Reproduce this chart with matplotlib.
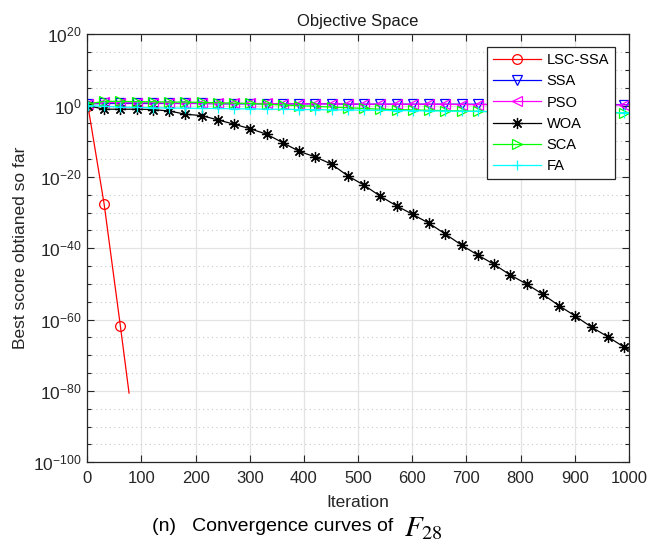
import numpy as np
import matplotlib
matplotlib.use("Agg")
import matplotlib.pyplot as plt
from matplotlib.ticker import FixedLocator, LogFormatterSciNotation, NullFormatter

plt.rcParams['font.family'] = ['Liberation Sans', 'DejaVu Sans']

# iterations at which values were read (markers every 30 iterations + final)
iters = [1, 31, 61, 91, 121, 151, 181, 211, 241, 271, 301, 331, 361, 391, 421, 451,
         481, 511, 541, 571, 601, 631, 661, 691, 721, 751, 781, 811, 841, 871, 901,
         931, 961, 991, 1000]

lsc_iters = [1, 31, 61, 77]
lsc_log = [0.0, -27.6, -61.8, -80.6]

ssa_log = [0.5, 0.6, 0.6, 0.6, 0.6, 0.6, 0.6, 0.6, 0.5, 0.5, 0.5, 0.5, 0.5, 0.5, 0.5,
           0.5, 0.4, 0.4, 0.4, 0.4, 0.4, 0.4, 0.4, 0.4, 0.4, 0.3, 0.3, 0.3, 0.3, 0.3,
           0.3, 0.3, 0.3, 0.3, 0.3]
pso_log = [0.5, 0.9, 0.8, 0.8, 0.8, 0.7, 0.7, 0.7, 0.6, 0.6, 0.6, 0.6, 0.5, 0.5, 0.5,
           0.5, 0.5, 0.4, 0.4, 0.4, 0.4, 0.4, 0.4, 0.3, 0.3, 0.3, 0.3, 0.3, 0.2, 0.2,
           0.2, 0.2, 0.2, 0.2, 0.2]
woa_log = [0.0, -1.0, -1.0, -1.0, -1.1, -1.5, -2.4, -2.8, -4.0, -5.2, -6.5, -8.0,
           -10.4, -12.8, -14.4, -16.4, -19.7, -22.3, -25.4, -28.1, -30.5, -33.0,
           -36.0, -39.1, -41.9, -44.5, -47.5, -50.0, -52.9, -56.1, -59.0, -62.1,
           -64.8, -67.7, -68.3]
sca_log = [0.5, 1.2, 1.2, 1.1, 1.1, 1.0, 1.0, 0.9, 0.8, 0.7, 0.6, 0.4, 0.2, 0.0, -0.2,
           -0.4, -0.6, -0.8, -1.0, -1.1, -1.2, -1.3, -1.4, -1.5, -1.6, -1.7, -1.8,
           -1.8, -1.9, -1.9, -2.0, -2.0, -2.0, -2.0, -2.0]
fa_log = [0.0, -0.2, -0.4, -0.5, -0.6, -0.7, -0.7, -0.8, -0.8, -0.9, -0.9, -1.0, -1.0,
          -1.1, -1.1, -1.2, -1.2, -1.3, -1.3, -1.4, -1.4, -1.5, -1.5, -1.6, -1.6, -1.7,
          -1.7, -1.8, -1.8, -1.9, -1.9, -2.0, -2.0, -2.0, -2.0]

labels = ['LSC-SSA', 'SSA', 'PSO', 'WOA', 'SCA', 'FA']
colors = ['#ff0000', '#0000ff', '#ff00ff', '#000000', '#00ff00', '#00ffff']
markers = ['o', 'v', '<', (8, 2, 0), '>', '+']

xticks = [0, 100, 200, 300, 400, 500, 600, 700, 800, 900, 1000]

fig = plt.figure(figsize=(6.47, 5.49), dpi=100)
ax = fig.add_axes([0.135, 0.158, 0.837, 0.7795])

series = [
    (lsc_iters, lsc_log),
    (iters, ssa_log),
    (iters, pso_log),
    (iters, woa_log),
    (iters, sca_log),
    (iters, fa_log),
]
for (xs, ys), lab, c, m in zip(series, labels, colors, markers):
    xs = np.array(xs)
    yv = 10.0 ** np.array(ys)
    n = len(xs)
    me = list(range(n - 1))
    ax.plot(xs, yv, color=c, lw=0.9, marker=m, markersize=7 if m != (8, 2, 0) else 8,
            markerfacecolor='none', markeredgecolor=c, markeredgewidth=0.9,
            markevery=me, label=lab)

ax.set_yscale('log')
ax.set_xlim(0, 1000)
ax.set_ylim(1e-100, 1e20)
ax.set_xticks(xticks)
ax.yaxis.set_major_locator(FixedLocator([10.0 ** k for k in range(-100, 21, 20)]))
ax.yaxis.set_minor_locator(FixedLocator([10.0 ** k for k in range(-100, 21, 5) if k % 20 != 0]))
ax.yaxis.set_major_formatter(LogFormatterSciNotation())
ax.yaxis.set_minor_formatter(NullFormatter())

ax.grid(True, which='major', color='#e3e3e3', lw=0.9, ls='-')
ax.grid(True, which='minor', axis='y', color='#c8c8c8', lw=0.8, ls=(0, (1, 3)))
ax.set_axisbelow(True)

ax.tick_params(which='both', direction='in', top=True, right=True,
               colors='#262626', width=0.8)
ax.tick_params(axis='x', labelsize=12, pad=6)
ax.tick_params(axis='y', labelsize=12.5, pad=4)
ax.tick_params(which='major', length=5)
ax.tick_params(which='minor', length=3)
for s in ax.spines.values():
    s.set_color('#262626')
    s.set_linewidth(0.9)

ax.set_title('Objective Space', fontsize=12, color='#1a1a1a', pad=6)
ax.set_xlabel('Iteration', fontsize=12.5, color='#262626', labelpad=7)
ax.set_ylabel('Best score obtianed so far', fontsize=12.5, color='#262626', labelpad=4)

leg = ax.legend(loc='upper right', bbox_to_anchor=(0.974, 0.97), borderaxespad=0,
                fontsize=10.5, frameon=True, fancybox=False, edgecolor='#262626',
                framealpha=1, handlelength=3.3, borderpad=0.4, labelspacing=0.5,
                handletextpad=0.4)
leg.get_frame().set_linewidth(0.9)

fig.text(0.624, 0.041, r'(n)   Convergence curves of  ', ha='right', va='center',
         fontsize=14, color='#000000')
fig.text(0.624, 0.038, r'$F_{28}$', ha='left', va='center', fontsize=21,
         color='#000000', math_fontfamily='stix')

fig.savefig('out.png', dpi=100)
